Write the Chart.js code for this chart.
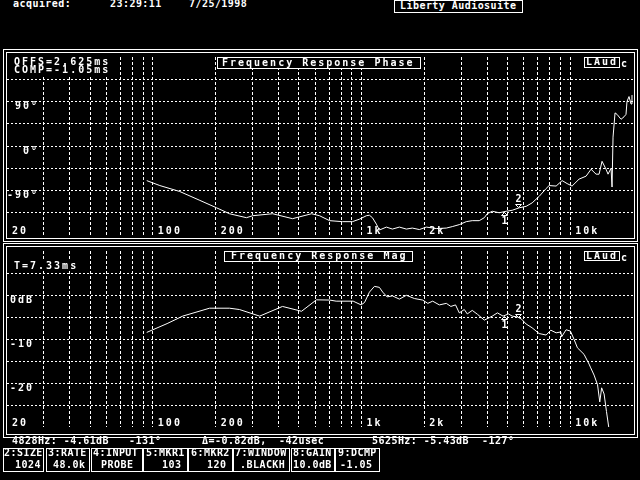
<!DOCTYPE html>
<html lang="en">
<head>
  <meta charset="UTF-8" />
  <title>Frequency Response</title>
  <script src="https://cdn.jsdelivr.net/npm/chart.js"></script>
  <style>
    html, body {
      margin: 0;
      padding: 0;
      background: #000;
    }
    body {
      width: 640px;
      height: 480px;
      position: relative;
      overflow: hidden;
      color: #fff;
      font-family: 'DejaVu Sans Mono', monospace;
    }
    .t {
      position: absolute;
      font-weight: bold;
      font-size: 10px;
      line-height: 10px;
      letter-spacing: 0.45px;
      white-space: pre;
    }
    .big {
      letter-spacing: 2px;
    }
    .frame {
      position: absolute;
      border: 1px solid #fff;
      box-sizing: border-box;
    }
    .box {
      position: absolute;
      border: 1px solid #fff;
      box-sizing: border-box;
      background: #000;
    }
    .fill {
      position: absolute;
      background: #000;
    }
    canvas {
      position: absolute;
      left: 0;
    }
  </style>
</head>
<body>
  <!-- panel frames (double line) -->
  <div class="frame" style="left:3px;top:49px;width:635px;height:193px"></div>
  <div class="frame" style="left:6px;top:52px;width:629px;height:187px"></div>
  <div class="frame" style="left:3px;top:243px;width:635px;height:195px"></div>
  <div class="frame" style="left:6px;top:246px;width:629px;height:189px"></div>

  <canvas id="phaseChart" width="640" height="204" style="top:44px"></canvas>
  <canvas id="magChart" width="640" height="204" style="top:237px"></canvas>

  <!-- header -->
  <div class="t" style="left:13px;top:-1px">acquired:</div>
  <div class="t" style="left:110px;top:-1px">23:29:11</div>
  <div class="t" style="left:189px;top:-1px">7/25/1998</div>
  <div class="box" style="left:394px;top:0px;width:129px;height:13px"></div>
  <div class="t" style="left:400px;top:1px">Liberty Audiosuite</div>

  <!-- phase panel texts -->
  <div class="fill" style="left:12px;top:53px;width:100px;height:23px"></div>
  <div class="t big" style="left:14px;top:57px">OFFS=2.625ms</div>
  <div class="t big" style="left:14px;top:65px">COMP=-1.05ms</div>
  <div class="box" style="left:217px;top:57px;width:204px;height:12px"></div>
  <div class="t big" style="left:222px;top:58px">Frequency Response Phase</div>
  <div class="box" style="left:584px;top:57px;width:36px;height:11px"></div>
  <div class="t big" style="left:586px;top:57px">LAud</div>
  <div class="t big" style="left:621px;top:59px">c</div>

  <!-- magnitude panel texts -->
  <div class="fill" style="left:12px;top:260px;width:68px;height:9px"></div>
  <div class="t big" style="left:14px;top:261px">T=7.33ms</div>
  <div class="box" style="left:224px;top:251px;width:189px;height:11px"></div>
  <div class="t big" style="left:231px;top:251px">Frequency Response Mag</div>
  <div class="box" style="left:584px;top:251px;width:36px;height:10px"></div>
  <div class="t big" style="left:586px;top:251px">LAud</div>
  <div class="t big" style="left:621px;top:253px">c</div>

  <!-- marker readout -->
  <div class="t" style="left:12px;top:436px">4828Hz: -4.61dB</div>
  <div class="t" style="left:129px;top:436px">-131°</div>
  <div class="t" style="left:202px;top:436px">Δ=-0.82dB,</div>
  <div class="t" style="left:279px;top:436px">-42usec</div>
  <div class="t" style="left:372px;top:436px">5625Hz: -5.43dB</div>
  <div class="t" style="left:482px;top:436px">-127°</div>

  <!-- function keys -->
  <div id="keys"></div>

  <script>
    // phase trace
    const phaseFreq = [93.5, 108, 134.5, 168, 202, 233, 281, 301, 375, 467, 576, 629, 703, 810, 905, 977,
      1056, 1091, 1128, 1178, 1218, 1316, 1406, 1519, 1640, 1752, 1893, 2044, 2282, 2550, 2723, 2942,
      3177, 3394, 3667, 3876, 4005, 4231, 4570, 4935, 5274, 5696, 6152, 6572, 7098, 7668, 7925, 8562,
      9150, 9666, 10212, 11028, 11918, 12590, 13305, 13752, 14213, 14854, 15185, 15695, 15870, 16046,
      16405, 16770, 17528, 18112, 18514, 18720, 19138, 19564, 19780];
    const phaseDeg = [-70, -80, -92, -110, -125, -137, -145, -141, -137, -147, -137, -141, -151, -153, -153, -148,
      -141, -140, -145, -158, -170, -164, -168, -164, -168, -166, -169, -164, -167, -166, -163, -159,
      -153, -151, -151, -145, -137, -132, -135, -132, -130, -125, -122, -115, -102, -86, -80, -81,
      -70, -76, -81, -67, -61, -47, -57, -57, -31, -47, -57, -45, -83, 18,
      67, 64, 54, 59, 64, 90, 100, 85, 103];

    // magnitude trace
    const magFreq = [93.5, 117, 139, 187, 233, 260, 325, 418, 516, 608, 703, 756, 912, 996, 1034, 1091,
      1153, 1218, 1264, 1326, 1406, 1519, 1640, 1792, 1963, 2078, 2193, 2360, 2550, 2680, 2822, 2942,
      3108, 3212, 3394, 3598, 3876, 4097, 4231, 4480, 4766, 5063, 5274, 5602, 5850, 6152, 6572, 7098,
      7668, 8076, 8562, 9017, 9100, 9560, 10026, 10442, 10832, 11658, 12318, 12500, 13016, 13523, 13860,
      14150, 14539, 14928, 15404];
    const magDb = [-8.5, -6.5, -4.8, -3.0, -3.0, -3.3, -4.8, -2.6, -3.7, -1.1, -1.15, -1.4, -1.4, -2.25, -1.7, 0.65,
      1.96, 1.74, 0.65, -0.43, -0.2, -0.94, -0.07, -0.8, -1.15, -1.9, -1.4, -2.25, -1.9, -2.6, -2.25, -4.06,
      -3.3, -4.3, -3.5, -4.4, -5.7, -5.15, -4.8, -4.06, -4.8, -4.3, -4.8, -5.0, -5.5, -6.6, -7.46, -8.76,
      -9.1, -8.0, -8.6, -8.4, -9.5, -7.9, -8.2, -10.1, -12.0, -13.5, -15.7, -16.4, -18.2, -20.4, -24.3,
      -21.1, -22.5, -26.5, -31];

    // markers
    const markerNames = ['1', '2'];
    const markerFreq = [4828, 5625];
    const markerDeg = [-131, -127];
    const markerDb = [-4.61, -5.43];

    // axes
    const freqGrid = [20, 30, 40, 50, 60, 70, 80, 90, 100, 200, 300, 400, 500, 600, 700, 800, 900,
      1000, 2000, 3000, 4000, 5000, 6000, 7000, 8000, 9000, 10000];
    const freqLabelValues = [20, 100, 200, 1000, 2000, 10000];
    const freqLabelText = ['20', '100', '200', '1k', '2k', '10k'];
    const phaseTickValues = [-90, 0, 90];
    const phaseTickText = ['-90°', '0°', '90°'];
    const magTickValues = [-20, -10, 0];
    const magTickText = ['-20', '-10', '0dB'];

    // function key boxes
    const keyLabels = ['2:SIZE', '3:RATE', '4:INPUT', '5:MKR1', '6:MKR2', '7:WINDOW', '8:GAIN', '9:DCMP'];
    const keyValues = ['1024', '48.0k', 'PROBE', '103', '120', '.BLACKH', '10.0dB', '-1.05'];

    const keyBox = [[3, 44], [46, 90], [91, 143], [143, 188], [188, 233], [233, 290], [291, 335], [335, 380]];
    const keyText1 = [4, 48, 93, 146, 191, 235, 293, 338];
    const keyText2 = [15, 53, 101, 162, 207, 240, 293, 340];
    const keys = document.getElementById('keys');
    keyLabels.forEach((lab, i) => {
      keys.insertAdjacentHTML('beforeend',
        `<div class="frame" style="left:${keyBox[i][0]}px;top:448px;width:${keyBox[i][1] - keyBox[i][0]}px;height:24px"></div>` +
        `<div class="t" style="left:${keyText1[i]}px;top:448px">${lab}</div>` +
        `<div class="t" style="left:${keyText2[i]}px;top:460px">${keyValues[i]}</div>`);
    });

    Chart.defaults.font.family = "'DejaVu Sans Mono', monospace";

    // wide DOS-like tick labels
    const spacing = {
      id: 'spacing',
      beforeDraw(chart) { chart.ctx.letterSpacing = '2px'; }
    };

    const markerPlugin = {
      id: 'markers',
      afterDatasetsDraw(chart, args, opts) {
        const { ctx, scales: { x, y } } = chart;
        ctx.save();
        ctx.letterSpacing = '0px';
        ctx.fillStyle = '#fff';
        ctx.strokeStyle = '#fff';
        ctx.lineWidth = 1;
        ctx.font = "bold 10px 'DejaVu Sans Mono'";
        ctx.textAlign = 'center';
        opts.values.forEach((v, i) => {
          const px = Math.round(x.getPixelForValue(markerFreq[i])) + 0.5;
          const py = Math.round(y.getPixelForValue(v)) + 0.5;
          ctx.beginPath();
          if (i === 0) {
            ctx.moveTo(px, py + 1);
            ctx.lineTo(px - 3, py + 4);
            ctx.lineTo(px + 3, py + 4);
            ctx.closePath();
            ctx.stroke();
            ctx.textBaseline = 'top';
            ctx.fillText(markerNames[i], px, py + 5);
          } else {
            ctx.moveTo(px, py - 2);
            ctx.lineTo(px - 3, py - 5);
            ctx.lineTo(px + 3, py - 5);
            ctx.closePath();
            ctx.stroke();
            ctx.textBaseline = 'bottom';
            ctx.fillText(markerNames[i], px, py - 5);
          }
        });
        ctx.restore();
      }
    };

    function panelChart(id, freqs, vals, yMin, yMax, step, tickValues, tickText, labelPad, markerVals) {
      return new Chart(document.getElementById(id), {
        type: 'line',
        data: {
          datasets: [{
            data: freqs.map((f, i) => ({ x: f, y: vals[i] })),
            borderColor: '#fff',
            borderWidth: 1,
            pointRadius: 0,
            tension: 0
          }]
        },
        options: {
          responsive: false,
          animation: false,
          devicePixelRatio: 1,
          layout: { padding: { left: 7, right: 7, top: 10, bottom: 10 } },
          plugins: {
            legend: { display: false },
            tooltip: { enabled: false },
            markers: { values: markerVals }
          },
          scales: {
            x: {
              type: 'logarithmic',
              min: 20,
              max: 20000,
              afterBuildTicks: s => { s.ticks = freqGrid.map(v => ({ value: v })); },
              afterFit: s => { s.height = 0; },
              grid: {
                color: c => (c.tick && c.tick.value === 20) ? 'transparent' : '#fff',
                drawTicks: false,
                lineWidth: 1
              },
              border: { display: false, dash: [3, 2] },
              ticks: {
                autoSkip: false,
                maxRotation: 0,
                mirror: true,
                align: 'start',
                labelOffset: 5,
                padding: -1,
                color: '#fff',
                font: { size: 10, weight: 'bold', lineHeight: 1 },
                callback: v => {
                  const k = freqLabelValues.indexOf(v);
                  return k < 0 ? '' : freqLabelText[k];
                }
              }
            },
            y: {
              min: yMin,
              max: yMax,
              afterFit: s => { s.width = 0; },
              grid: {
                color: c => (c.tick && (c.tick.value === yMin || c.tick.value === yMax)) ? 'transparent' : '#fff',
                drawTicks: false,
                lineWidth: 1
              },
              border: { display: false, dash: [2, 2] },
              ticks: {
                stepSize: step,
                mirror: true,
                crossAlign: 'far',
                padding: labelPad,
                labelOffset: 5,
                color: '#fff',
                font: { size: 10, weight: 'bold', lineHeight: 1 },
                callback: v => {
                  const k = tickValues.indexOf(v);
                  return k < 0 ? '' : tickText[k];
                }
              }
            }
          }
        },
        plugins: [spacing, markerPlugin]
      });
    }

    panelChart('phaseChart', phaseFreq, phaseDeg, -180, 180, 45, phaseTickValues, phaseTickText, 8, markerDeg);
    panelChart('magChart', magFreq, magDb, -30, 10, 5, magTickValues, magTickText, 9, markerDb);
  </script>
</body>
</html>
